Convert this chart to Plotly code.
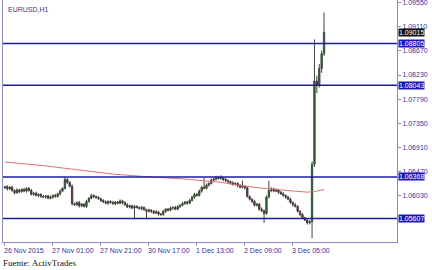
import plotly.graph_objects as go

# ---- data ----
closes = [
    1.0619, 1.0615, 1.0618, 1.0612, 1.0608, 1.0613, 1.0610, 1.0614, 1.0611, 1.0616,
    1.0612, 1.0605, 1.0607, 1.0603, 1.0605, 1.0601, 1.0600, 1.0602, 1.0598, 1.0600,
    1.0603, 1.0601, 1.0606, 1.0611, 1.0616, 1.0632, 1.0627, 1.0620, 1.0588, 1.0586,
    1.0590, 1.0584, 1.0587, 1.0583, 1.0592, 1.0598, 1.0603, 1.0601, 1.0599, 1.0597,
    1.0594, 1.0591, 1.0589, 1.0592, 1.0590, 1.0588, 1.0591, 1.0589, 1.0593, 1.0590,
    1.0586, 1.0582, 1.0584, 1.0580, 1.0583, 1.0581, 1.0579, 1.0581, 1.0577, 1.0574,
    1.0576, 1.0574, 1.0571, 1.0573, 1.0569, 1.0568, 1.0574, 1.0578, 1.0576, 1.0580,
    1.0581, 1.0578, 1.0583, 1.0585, 1.0588, 1.0591, 1.0589, 1.0594, 1.0600, 1.0605,
    1.0603, 1.0611, 1.0618, 1.0616, 1.0622, 1.0625, 1.0631, 1.0633, 1.0636, 1.0634,
    1.0635, 1.0632, 1.0630, 1.0628, 1.0626, 1.0623, 1.0625, 1.0621, 1.0618, 1.0620,
    1.0617, 1.0601, 1.0596, 1.0592, 1.0585, 1.0587, 1.0578, 1.0575, 1.0570, 1.0600,
    1.0612, 1.0615, 1.0611, 1.0613, 1.0609, 1.0606, 1.0603, 1.0600, 1.0596, 1.0590,
    1.0586, 1.0583, 1.0574, 1.0568, 1.0562, 1.0558, 1.0553, 1.0555, 1.0660, 1.0812,
    1.0805, 1.0835, 1.0862, 1.0901,
]
first_open = 1.0617

upper_wick_pips = [
    2, 3, 2, 3, 2, 3, 2, 2, 3, 2,   2, 3, 2, 3, 2, 2, 3, 2, 2, 3,
    2, 3, 2, 3, 2, 5, 3, 2, 3, 2,   2, 3, 2, 2, 3, 2, 3, 2, 2, 3,
    2, 2, 3, 2, 2, 3, 2, 2, 3, 2,   2, 3, 2, 2, 3, 2, 2, 3, 2, 2,
    3, 2, 2, 3, 2, 2, 3, 2, 2, 3,   2, 3, 2, 2, 3, 2, 2, 3, 2, 3,
    2, 3, 2, 18, 3, 2, 3, 2, 3, 2,  5, 2, 3, 2, 2, 3, 2, 2, 3, 10,
    2, 3, 2, 2, 3, 2, 2, 3, 2, 3,   18, 3, 2, 3, 2, 2, 3, 2, 2, 3,
    2, 3, 2, 2, 3, 2, 2, 3, 5, 76,  10, 8, 6, 36,
]
lower_wick_pips = [
    2, 3, 2, 2, 3, 2, 3, 2, 2, 3,   2, 2, 3, 2, 3, 2, 2, 3, 2, 2,
    3, 2, 2, 3, 2, 2, 3, 2, 3, 2,   2, 3, 2, 2, 3, 2, 2, 3, 2, 2,
    3, 2, 2, 3, 2, 2, 3, 2, 2, 3,   2, 2, 3, 2, 18, 2, 2, 3, 2, 12,
    2, 3, 2, 2, 3, 2, 2, 3, 2, 2,   3, 2, 2, 3, 2, 2, 3, 2, 2, 3,
    2, 2, 3, 2, 2, 3, 2, 2, 3, 2,   2, 3, 2, 2, 3, 2, 2, 3, 2, 2,
    3, 2, 2, 3, 2, 2, 3, 2, 17, 2,  2, 3, 2, 2, 3, 2, 2, 3, 2, 2,
    3, 2, 2, 3, 2, 2, 3, 3, 30, 5,  15, 5, 8, 4,
]

ma_index = [0, 15, 30, 45, 60, 75, 90, 100, 110, 120, 126, 129, 133]
ma_values = [1.0664, 1.0658, 1.0650, 1.0642, 1.0637, 1.0633, 1.0627, 1.0620,
             1.0615, 1.0611, 1.0609, 1.0610, 1.0614]

level_values = [1.08805, 1.08043, 1.06368, 1.05607]
level_labels = ["1.08805", "1.08043", "1.06368", "1.05607"]
last_price = 1.09015
last_label = "1.09015"

ytick_values = [1.09550, 1.09110, 1.08670, 1.08230, 1.07790, 1.07350, 1.06910, 1.06470, 1.06030]
ytick_labels = ["1.09550", "1.09110", "1.08670", "1.08230", "1.07790", "1.07350", "1.06910", "1.06470", "1.06030"]

xtick_index = [0, 20, 40, 60, 80, 100, 120]
xtick_labels = ["26 Nov 2015", "27 Nov 01:00", "27 Nov 21:00", "30 Nov 17:00",
                "1 Dec 13:00", "2 Dec 09:00", "3 Dec 05:00"]

# ---- build OHLC ----
idx = list(range(len(closes)))
opens = [first_open] + closes[:-1]
highs = [max(o, c) + u * 0.0001 for o, c, u in zip(opens, closes, upper_wick_pips)]
lows = [min(o, c) - d * 0.0001 for o, c, d in zip(opens, closes, lower_wick_pips)]

AX = "#8a8ac8"
TXT = "#3232a0"
LINE = "#1c1c9c"

fig = go.Figure()
fig.add_trace(go.Candlestick(
    x=idx, open=opens, high=highs, low=lows, close=closes,
    increasing=dict(line=dict(color="#3c4a3c", width=1), fillcolor="#1f7a1f"),
    decreasing=dict(line=dict(color="#4a3c3c", width=1), fillcolor="#6a2a2a"),
    whiskerwidth=0, showlegend=False, hoverinfo="skip",
))
fig.add_trace(go.Scatter(
    x=ma_index, y=ma_values, mode="lines", line=dict(color="#e07070", width=1),
    showlegend=False, hoverinfo="skip",
))

for v in level_values:
    fig.add_shape(type="line", xref="paper", x0=0, x1=1, yref="y", y0=v, y1=v,
                  line=dict(color=LINE, width=1.5), layer="above")

annotations = []
for v, t in zip(level_values, level_labels):
    annotations.append(dict(xref="paper", x=1.0, xanchor="left", xshift=1, yref="y", y=v,
                            yanchor="middle", text=t, showarrow=False,
                            font=dict(family="Liberation Sans", size=7, color="white"),
                            bgcolor="#1c1cb0", borderpad=0))
annotations.append(dict(xref="paper", x=1.0, xanchor="left", xshift=1, yref="y", y=last_price,
                        yanchor="middle", text=last_label, showarrow=False,
                        font=dict(family="Liberation Sans", size=7, color="white"),
                        bgcolor="#111111", borderpad=0))
for i, t in zip(xtick_index, xtick_labels):
    annotations.append(dict(xref="x", x=i, xanchor="left", xshift=-3, yref="paper", y=0,
                            yanchor="top", yshift=-3, text=t, showarrow=False,
                            font=dict(family="Liberation Sans", size=7, color=TXT)))
annotations.append(dict(xref="paper", x=0, xanchor="left", xshift=3, yref="paper", y=1,
                        yanchor="top", yshift=-4, text="EURUSD,H1", showarrow=False,
                        font=dict(family="Liberation Sans", size=7, color="#3a3a80")))
annotations.append(dict(xref="paper", x=0, xanchor="left", xshift=-2, yref="paper", y=0,
                        yanchor="top", yshift=-14, text="Fuente: ActivTrades", showarrow=False,
                        font=dict(family="Liberation Serif", size=9, color="#111111")))

fig.update_layout(
    width=432, height=270,
    margin=dict(l=3, r=35, t=0, b=28),
    paper_bgcolor="white", plot_bgcolor="white",
    annotations=annotations,
    boxgap=0.2,
    xaxis=dict(range=[-0.8, 163.4], rangeslider=dict(visible=False), showgrid=False,
               zeroline=False, showline=True, linecolor=AX, linewidth=1,
               tickmode="array", tickvals=xtick_index, ticktext=[""] * len(xtick_index),
               ticks="outside", ticklen=3, tickcolor=AX),
    yaxis=dict(range=[1.0518, 1.0960], side="right", showgrid=False, zeroline=False,
               showline=True, linecolor=AX, linewidth=1, mirror=True,
               tickmode="array", tickvals=ytick_values, ticktext=ytick_labels,
               ticks="outside", ticklen=3, tickcolor=AX, ticklabeloverflow="allow",
               tickfont=dict(family="Liberation Sans", size=7, color=TXT)),
)

fig.write_html("out.html")
